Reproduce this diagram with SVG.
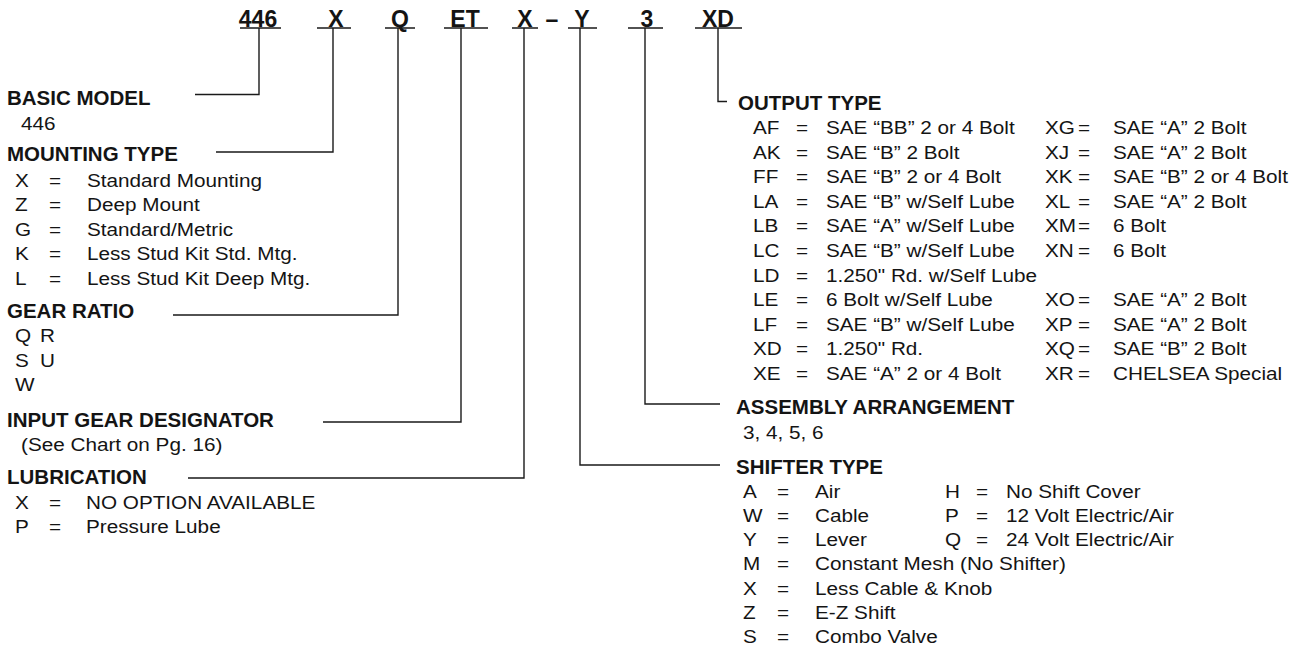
<svg xmlns="http://www.w3.org/2000/svg" width="1308" height="651" viewBox="0 0 1308 651">
<style>
text{font-family:"Liberation Sans",Arial,Helvetica,sans-serif;fill:#141414}
.h{font-weight:bold;font-size:20.5px}
.c{font-weight:bold;font-size:23px;text-anchor:middle}
.t{font-size:18.5px;transform:scaleX(1.12);transform-box:fill-box;transform-origin:0 0}
.ul,.cn{stroke:#1a1a1a;stroke-width:1.4;fill:none}
</style>
<rect width="1308" height="651" fill="#ffffff"/>

<g id="model-code">
  <text class="c" x="258" y="26.5">446</text>
  <text class="c" x="336" y="26.5">X</text>
  <text class="c" x="400" y="26.5">Q</text>
  <text class="c" x="465" y="26.5">ET</text>
  <text class="c" x="525" y="26.5">X</text>
  <text class="c" x="552" y="26.5">–</text>
  <text class="c" x="582" y="26.5">Y</text>
  <text class="c" x="647" y="26.5">3</text>
  <text class="c" x="718" y="26.5">XD</text>
  <path class="ul" d="M240 28H281M317 28H351M385 28H415M444 28H488M512 28H538M568 28H597M628 28H663M695 28H742"/>
</g>

<g id="connectors">
  <path class="cn" d="M259 28V94.5H195"/>
  <path class="cn" d="M333 28V152H216"/>
  <path class="cn" d="M398 28V315H173"/>
  <path class="cn" d="M461 28V422H323"/>
  <path class="cn" d="M524 28V478H188"/>
  <path class="cn" d="M580 28V465H720"/>
  <path class="cn" d="M645 28V404H720"/>
  <path class="cn" d="M718 28V101.5H727"/>
</g>

<g id="basic-model">
  <text class="h" x="7" y="105">BASIC MODEL</text>
  <text class="t" x="21" y="130">446</text>
</g>

<g id="mounting-type">
  <text class="h" x="7" y="161">MOUNTING TYPE</text>
  <text class="t" x="15" y="187">X</text><text class="t" x="49" y="187">=</text><text class="t" x="87" y="187">Standard Mounting</text>
  <text class="t" x="15" y="211">Z</text><text class="t" x="49" y="211">=</text><text class="t" x="87" y="211">Deep Mount</text>
  <text class="t" x="15" y="236">G</text><text class="t" x="49" y="236">=</text><text class="t" x="87" y="236">Standard/Metric</text>
  <text class="t" x="15" y="260">K</text><text class="t" x="49" y="260">=</text><text class="t" x="87" y="260">Less Stud Kit Std. Mtg.</text>
  <text class="t" x="15" y="285">L</text><text class="t" x="49" y="285">=</text><text class="t" x="87" y="285">Less Stud Kit Deep Mtg.</text>
</g>

<g id="gear-ratio">
  <text class="h" x="7" y="318">GEAR RATIO</text>
  <text class="t" x="15" y="342">Q</text><text class="t" x="40" y="342">R</text>
  <text class="t" x="15" y="367">S</text><text class="t" x="40" y="367">U</text>
  <text class="t" x="15" y="391">W</text>
</g>

<g id="input-gear-designator">
  <text class="h" x="7" y="427">INPUT GEAR DESIGNATOR</text>
  <text class="t" x="21" y="451">(See Chart on Pg. 16)</text>
</g>

<g id="lubrication">
  <text class="h" x="7" y="484">LUBRICATION</text>
  <text class="t" x="15" y="509">X</text><text class="t" x="49" y="509">=</text><text class="t" x="86" y="509">NO OPTION AVAILABLE</text>
  <text class="t" x="15" y="533">P</text><text class="t" x="49" y="533">=</text><text class="t" x="86" y="533">Pressure Lube</text>
</g>

<g id="output-type">
  <text class="h" x="738" y="110">OUTPUT TYPE</text>
  <text class="t" x="753" y="134">AF</text><text class="t" x="796" y="134">=</text><text class="t" x="826" y="134">SAE “BB” 2 or 4 Bolt</text>
  <text class="t" x="753" y="159">AK</text><text class="t" x="796" y="159">=</text><text class="t" x="826" y="159">SAE “B” 2 Bolt</text>
  <text class="t" x="753" y="183">FF</text><text class="t" x="796" y="183">=</text><text class="t" x="826" y="183">SAE “B” 2 or 4 Bolt</text>
  <text class="t" x="753" y="208">LA</text><text class="t" x="796" y="208">=</text><text class="t" x="826" y="208">SAE “B” w/Self Lube</text>
  <text class="t" x="753" y="232">LB</text><text class="t" x="796" y="232">=</text><text class="t" x="826" y="232">SAE “A” w/Self Lube</text>
  <text class="t" x="753" y="257">LC</text><text class="t" x="796" y="257">=</text><text class="t" x="826" y="257">SAE “B” w/Self Lube</text>
  <text class="t" x="753" y="282">LD</text><text class="t" x="796" y="282">=</text><text class="t" x="826" y="282">1.250" Rd. w/Self Lube</text>
  <text class="t" x="753" y="306">LE</text><text class="t" x="796" y="306">=</text><text class="t" x="826" y="306">6 Bolt w/Self Lube</text>
  <text class="t" x="753" y="331">LF</text><text class="t" x="796" y="331">=</text><text class="t" x="826" y="331">SAE “B” w/Self Lube</text>
  <text class="t" x="753" y="355">XD</text><text class="t" x="796" y="355">=</text><text class="t" x="826" y="355">1.250" Rd.</text>
  <text class="t" x="753" y="380">XE</text><text class="t" x="796" y="380">=</text><text class="t" x="826" y="380">SAE “A” 2 or 4 Bolt</text>

  <text class="t" x="1045" y="134">XG</text><text class="t" x="1078" y="134">=</text><text class="t" x="1113" y="134">SAE “A” 2 Bolt</text>
  <text class="t" x="1045" y="159">XJ</text><text class="t" x="1078" y="159">=</text><text class="t" x="1113" y="159">SAE “A” 2 Bolt</text>
  <text class="t" x="1045" y="183">XK</text><text class="t" x="1078" y="183">=</text><text class="t" x="1113" y="183">SAE “B” 2 or 4 Bolt</text>
  <text class="t" x="1045" y="208">XL</text><text class="t" x="1078" y="208">=</text><text class="t" x="1113" y="208">SAE “A” 2 Bolt</text>
  <text class="t" x="1045" y="232">XM</text><text class="t" x="1078" y="232">=</text><text class="t" x="1113" y="232">6 Bolt</text>
  <text class="t" x="1045" y="257">XN</text><text class="t" x="1078" y="257">=</text><text class="t" x="1113" y="257">6 Bolt</text>
  <text class="t" x="1045" y="306">XO</text><text class="t" x="1078" y="306">=</text><text class="t" x="1113" y="306">SAE “A” 2 Bolt</text>
  <text class="t" x="1045" y="331">XP</text><text class="t" x="1078" y="331">=</text><text class="t" x="1113" y="331">SAE “A” 2 Bolt</text>
  <text class="t" x="1045" y="355">XQ</text><text class="t" x="1078" y="355">=</text><text class="t" x="1113" y="355">SAE “B” 2 Bolt</text>
  <text class="t" x="1045" y="380">XR</text><text class="t" x="1078" y="380">=</text><text class="t" x="1113" y="380">CHELSEA Special</text>
</g>

<g id="assembly-arrangement">
  <text class="h" x="736" y="414">ASSEMBLY ARRANGEMENT</text>
  <text class="t" x="743" y="439">3, 4, 5, 6</text>
</g>

<g id="shifter-type">
  <text class="h" x="736" y="474">SHIFTER TYPE</text>
  <text class="t" x="743" y="498">A</text><text class="t" x="777" y="498">=</text><text class="t" x="815" y="498">Air</text>
  <text class="t" x="743" y="522">W</text><text class="t" x="777" y="522">=</text><text class="t" x="815" y="522">Cable</text>
  <text class="t" x="743" y="546">Y</text><text class="t" x="777" y="546">=</text><text class="t" x="815" y="546">Lever</text>
  <text class="t" x="743" y="570">M</text><text class="t" x="777" y="570">=</text><text class="t" x="815" y="570">Constant Mesh (No Shifter)</text>
  <text class="t" x="743" y="595">X</text><text class="t" x="777" y="595">=</text><text class="t" x="815" y="595">Less Cable &amp; Knob</text>
  <text class="t" x="743" y="619">Z</text><text class="t" x="777" y="619">=</text><text class="t" x="815" y="619">E-Z Shift</text>
  <text class="t" x="743" y="643">S</text><text class="t" x="777" y="643">=</text><text class="t" x="815" y="643">Combo Valve</text>
  <text class="t" x="945" y="498">H</text><text class="t" x="976" y="498">=</text><text class="t" x="1006" y="498">No Shift Cover</text>
  <text class="t" x="945" y="522">P</text><text class="t" x="976" y="522">=</text><text class="t" x="1006" y="522">12 Volt Electric/Air</text>
  <text class="t" x="945" y="546">Q</text><text class="t" x="976" y="546">=</text><text class="t" x="1006" y="546">24 Volt Electric/Air</text>
</g>
</svg>
